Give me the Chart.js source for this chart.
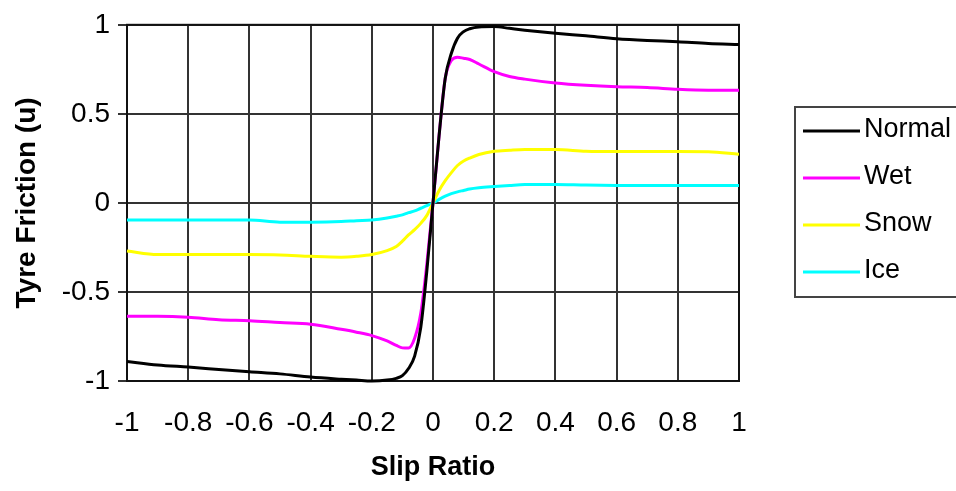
<!DOCTYPE html>
<html><head><meta charset="utf-8">
<script src="https://cdn.jsdelivr.net/npm/chart.js@4.4.1/dist/chart.umd.min.js"></script>
<style>html,body{margin:0;padding:0;background:#fff;overflow:hidden}canvas{display:block}</style>
</head><body>
<canvas id="c" width="956" height="491"></canvas>
<script>
const slip   = [-1,-0.9,-0.8,-0.7,-0.6,-0.5,-0.4,-0.3,-0.25,-0.2,-0.15,-0.12,-0.1,-0.08,-0.06,-0.04,-0.02,0,0.02,0.04,0.06,0.08,0.1,0.12,0.15,0.2,0.25,0.3,0.4,0.5,0.6,0.7,0.8,0.9,1];
const normal = [-0.89,-0.91,-0.922,-0.935,-0.948,-0.96,-0.978,-0.99,-0.995,-1.0,-0.995,-0.985,-0.97,-0.93,-0.86,-0.70,-0.38,0,0.38,0.70,0.84,0.925,0.962,0.978,0.988,0.99,0.98,0.97,0.953,0.938,0.922,0.912,0.905,0.895,0.89];
const wet    = [-0.637,-0.637,-0.642,-0.656,-0.662,-0.672,-0.681,-0.71,-0.726,-0.745,-0.775,-0.80,-0.814,-0.815,-0.76,-0.62,-0.34,0,0.38,0.70,0.80,0.818,0.812,0.805,0.78,0.737,0.71,0.695,0.673,0.66,0.652,0.648,0.638,0.633,0.633];
const snow   = [-0.27,-0.29,-0.29,-0.29,-0.29,-0.292,-0.30,-0.305,-0.30,-0.29,-0.268,-0.245,-0.215,-0.18,-0.15,-0.115,-0.07,0,0.07,0.125,0.17,0.21,0.235,0.252,0.272,0.29,0.296,0.30,0.30,0.29,0.288,0.288,0.288,0.287,0.273];
const ice    = [-0.096,-0.096,-0.096,-0.096,-0.096,-0.108,-0.108,-0.105,-0.1,-0.096,-0.085,-0.075,-0.067,-0.055,-0.045,-0.03,-0.016,0,0.02,0.038,0.052,0.062,0.07,0.078,0.085,0.092,0.098,0.103,0.104,0.1,0.098,0.097,0.097,0.097,0.097];
const seriesNames = ['Normal','Wet','Snow','Ice'];
const seriesColors = ['#000000','#ff00ff','#ffff00','#00ffff'];
const xTitle = 'Slip Ratio';
const yTitle = 'Tyre Friction (u)';

const FONT = '"Liberation Sans", Arial, sans-serif';
const toPts = arr => slip.map((x,i)=>({x:x,y:arr[i]}));
const allSeries = [normal, wet, snow, ice];

const extras = {
  id:'extras',
  beforeDatasetsDraw(chart){
    const a = chart.chartArea, ctx = chart.ctx;
    ctx.save();
    ctx.strokeStyle = '#111'; ctx.lineWidth = 2;
    ctx.strokeRect(a.left, a.top, a.right-a.left, a.bottom-a.top);
    ctx.restore();
  },
  afterDraw(chart){
    const ctx = chart.ctx, a = chart.chartArea;
    ctx.save();
    ctx.fillStyle = '#000';
    ctx.font = 'bold 27px ' + FONT;
    ctx.textAlign = 'center'; ctx.textBaseline = 'middle';
    ctx.fillText(xTitle, (a.left+a.right)/2, 468);
    ctx.font = 'bold 28px ' + FONT;
    ctx.translate(27, (a.top+a.bottom)/2);
    ctx.rotate(-Math.PI/2);
    ctx.fillText(yTitle, 0, 0);
    ctx.restore();
    // legend
    ctx.save();
    ctx.strokeStyle = '#444'; ctx.lineWidth = 2;
    ctx.strokeRect(795, 107, 175, 190);
    const rows = [131, 178, 225, 272];
    ctx.font = '27px ' + FONT;
    ctx.textAlign = 'left'; ctx.textBaseline = 'middle';
    chart.data.datasets.forEach((ds,i)=>{
      ctx.strokeStyle = ds.borderColor; ctx.lineWidth = 3;
      ctx.beginPath(); ctx.moveTo(803, rows[i]); ctx.lineTo(860, rows[i]); ctx.stroke();
      ctx.fillStyle = '#000';
      ctx.fillText(ds.label, 864, rows[i]-1);
    });
    ctx.restore();
  }
};

new Chart(document.getElementById('c'), {
  type: 'line',
  data: {
    datasets: seriesNames.map((n,i)=>({
      label: n,
      data: toPts(allSeries[i]),
      borderColor: seriesColors[i],
      backgroundColor: seriesColors[i],
      borderWidth: 3,
      pointRadius: 0,
      tension: 0,
      cubicInterpolationMode: 'monotone',
      clip: 3
    }))
  },
  options: {
    responsive: false,
    animation: false,
    devicePixelRatio: 1,
    layout: { padding: { left: 0, right: 217, top: 20, bottom: 0 } },
    plugins: { legend: { display: false }, tooltip: { enabled: false } },
    scales: {
      x: {
        type: 'linear', min: -1, max: 1,
        afterFit(s){ s.height = 110; },
        ticks: { stepSize: 0.2, padding: 25, color: '#000', maxRotation: 0, autoSkip: false,
          font: { family: FONT, size: 28 },
          callback: v => String(Math.round(v*10)/10) },
        grid: { color: '#333', lineWidth: 2, drawTicks: false },
        border: { display: false }
      },
      y: {
        min: -1, max: 1,
        afterFit(s){ s.width = 127; },
        ticks: { stepSize: 0.5, padding: 8, color: '#000',
          font: { family: FONT, size: 28 },
          callback: v => String(Math.round(v*10)/10) },
        grid: { color: '#333', lineWidth: 2, tickLength: 9 },
        border: { display: false }
      }
    }
  },
  plugins: [extras]
});
</script>
</body></html>
